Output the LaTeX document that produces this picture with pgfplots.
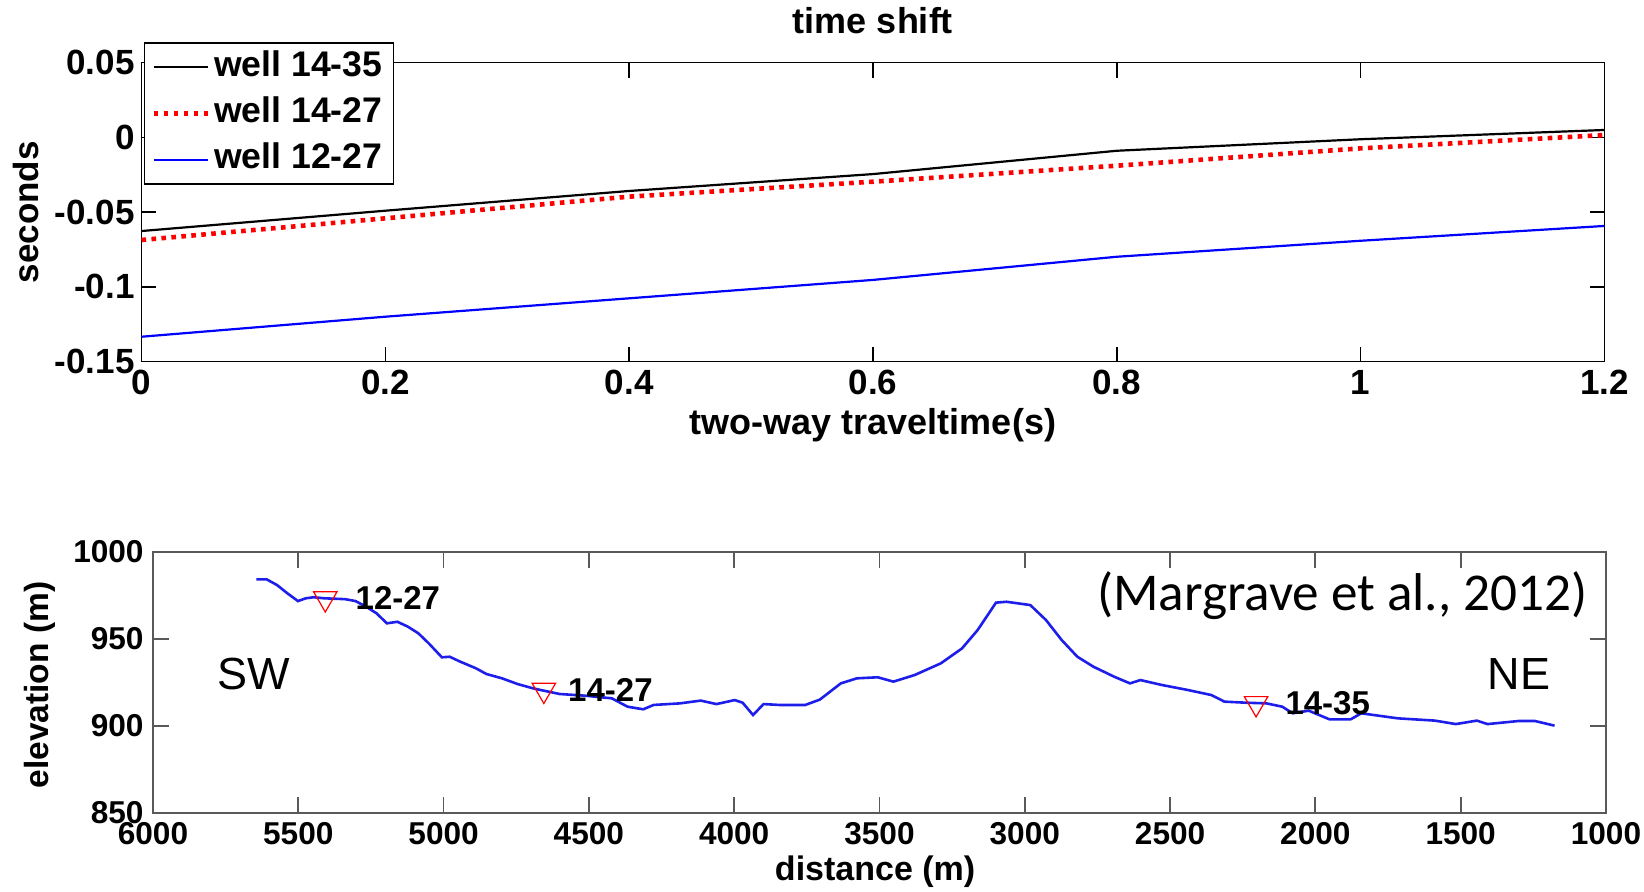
\documentclass[border=0pt]{standalone}
\usepackage{pgfplots}
\pgfplotsset{compat=1.18}
\usepackage{fontspec}
\setmainfont{Liberation Sans}
\newfontfamily\carlito{Carlito}
\newcommand{\tfa}{\fontsize{17.5}{20}\selectfont\bfseries}
\newcommand{\tfb}{\fontsize{15.8}{18}\selectfont\bfseries}
\definecolor{ablue}{RGB}{30,30,235}
\begin{document}
\begin{tikzpicture}[x=1pt,y=1pt]
\path[use as bounding box] (0,0) rectangle (822,445.5);
\begin{axis}[
  at={(70.75pt,264.65pt)}, anchor=south west,
  scale only axis, width=731.5pt, height=149.5pt,
  xmin=0, xmax=1.2, ymin=-0.15, ymax=0.05,
  scaled ticks=false, clip=false,
  xtick={0,0.2,0.4,0.6,0.8,1,1.2},
  xticklabels={0,0.2,0.4,0.6,0.8,1,1.2},
  ytick={-0.15,-0.1,-0.05,0,0.05},
  yticklabels={-0.15,-0.1,-0.05,0,0.05},
  tick align=inside, major tick length=7.5pt,
  axis line style={line width=0.7pt},
  every tick/.style={black, line width=0.7pt},
  tick label style={font=\tfa},
  xticklabel style={inner sep=0pt, yshift=-4pt},
  yticklabel style={inner sep=0pt, xshift=-3.25pt},
  xlabel={two-way traveltime(s)},
  xlabel style={at={(axis description cs:0.5,-0.245)}, anchor=base, inner sep=0pt, font=\fontsize{18}{21}\selectfont\bfseries},
  ylabel={seconds},
  ylabel style={at={(axis description cs:-0.0788,0.5)}, anchor=center, inner sep=0pt, font=\tfa},
  legend cell align=left,
  legend style={at={(axis description cs:0.0016,1.068)}, anchor=north west, draw=black, line width=0.7pt, fill=white,
    inner xsep=3.5pt, inner ysep=0.5pt, font=\fontsize{17.8}{20}\selectfont\bfseries,
    nodes={inner xsep=2pt, inner ysep=3.08pt, text height=13pt, text depth=4pt},
    row sep=0pt, column sep=0pt},
  legend image code/.code={\draw[#1] (0pt,0pt) -- (27pt,0pt);},
]
\addplot[black, line width=1.1pt] coordinates {
 (0,-0.0626) (0.2,-0.0490) (0.4,-0.0358) (0.6,-0.0245) (0.8,-0.0089) (1.0,-0.0012) (1.2,0.0050)};
\addlegendentry{well 14-35}
\addplot[red, line width=2.3pt, dash pattern=on 2.3pt off 2.7pt] coordinates {
 (0,-0.0686) (0.2,-0.0541) (0.4,-0.0396) (0.6,-0.0296) (0.8,-0.0189) (1.0,-0.0073) (1.2,0.0016)};
\addlegendentry{well 14-27}
\addplot[blue, line width=1.1pt] coordinates {
 (0,-0.1333) (0.2,-0.1199) (0.4,-0.1076) (0.6,-0.0953) (0.8,-0.0798) (1.0,-0.0691) (1.2,-0.0592)};
\addlegendentry{well 12-27}
\node[anchor=base, inner sep=0pt, font=\fontsize{18}{21}\selectfont\bfseries] at (axis description cs:0.5,1.099) {time shift};
\end{axis}

\begin{axis}[
  at={(76.5pt,39pt)}, anchor=south west,
  scale only axis, width=726.5pt, height=130.5pt,
  x dir=reverse, xmin=1000, xmax=6000, ymin=850, ymax=1000,
  scaled ticks=false, clip=false,
  xtick={1000,1500,2000,2500,3000,3500,4000,4500,5000,5500,6000},
  xticklabels={1000,1500,2000,2500,3000,3500,4000,4500,5000,5500,6000},
  ytick={850,900,950,1000},
  yticklabels={850,900,950,1000},
  tick align=inside, major tick length=8pt,
  axis line style={line width=0.9pt, black!65},
  every tick/.style={black!65, line width=0.9pt},
  tick label style={font=\tfb},
  xticklabel style={inner sep=0pt, yshift=-4.5pt},
  yticklabel style={inner sep=0pt, xshift=-4.5pt},
  xlabel={distance (m)},
  xlabel style={at={(axis description cs:0.497,-0.257)}, anchor=base, inner sep=0pt, font=\fontsize{17}{20}\selectfont\bfseries},
  ylabel={elevation (m)},
  ylabel style={at={(axis description cs:-0.0779,0.49)}, anchor=center, inner sep=0pt, font=\fontsize{16.75}{20}\selectfont\bfseries},
]
\addplot[ablue, line width=1.3pt] coordinates {
 (5644,984.3) (5609,984.3) (5573,981.0) (5537,976.2) (5501,971.8) (5474,973.4) (5447,974.0)
 (5411,973.4) (5339,972.9) (5303,971.8) (5267,968.6) (5231,964.8) (5195,959.0) (5159,959.9)
 (5123,957.1) (5087,953.3) (5051,947.5) (5006,939.5) (4979,939.8) (4943,937.0) (4889,933.2)
 (4853,929.9) (4799,927.4) (4745,924.1) (4691,921.6) (4655,920.3) (4601,918.4) (4511,917.4)
 (4421,915.9) (4367,911.1) (4313,909.6) (4277,912.1) (4187,913.0) (4115,914.6) (4061,912.6)
 (3998,914.9) (3971,913.4) (3935,906.3) (3899,912.6) (3845,912.1) (3755,912.1) (3705,915.2)
 (3633,924.5) (3578,927.4) (3506,928.0) (3452,925.5) (3379,929.3) (3289,936.0) (3216,944.6)
 (3162,955.2) (3099,970.9) (3063,971.4) (2981,969.5) (2927,960.9) (2873,949.4) (2819,939.8)
 (2764,934.1) (2692,928.3) (2638,924.5) (2602,926.4) (2529,923.6) (2439,920.7) (2358,917.8)
 (2313,914.0) (2240,913.4) (2168,913.0) (2114,911.1) (2078,907.3) (2023,908.8) (1951,903.8)
 (1879,903.8) (1842,907.3) (1716,904.4) (1589,903.1) (1517,901.1) (1444,903.1) (1408,901.1)
 (1299,902.9) (1245,902.9) (1177,900.2)};
\addplot[red, only marks, mark=triangle, mark size=6.78pt, mark options={rotate=180, line width=0.6pt, fill=none}]
 coordinates {(5407,973.3) (4655,920.7) (2204,913.0)};
\node[anchor=west, inner sep=0pt, font=\fontsize{16.5}{19}\selectfont\bfseries, xshift=15pt] at (axis cs:5407,973.3) {12-27};
\node[anchor=west, inner sep=0pt, font=\fontsize{16.5}{19}\selectfont\bfseries, xshift=12pt] at (axis cs:4655,920.7) {14-27};
\node[anchor=west, inner sep=0pt, font=\fontsize{16.5}{19}\selectfont\bfseries, xshift=14.5pt] at (axis cs:2204,913.0) {14-35};
\node[inner sep=0pt, font=\fontsize{22.5}{26}\selectfont] at (axis cs:5653,929.9) {SW};
\node[inner sep=0pt, font=\fontsize{22.5}{26}\selectfont] at (axis cs:1299,929.9) {NE};
\node[anchor=base east, inner sep=0pt, font=\carlito\fontsize{26.6}{31}\selectfont] at (axis description cs:0.9876,0.775) {(Margrave et al., 2012)};
\end{axis}
\end{tikzpicture}
\end{document}
